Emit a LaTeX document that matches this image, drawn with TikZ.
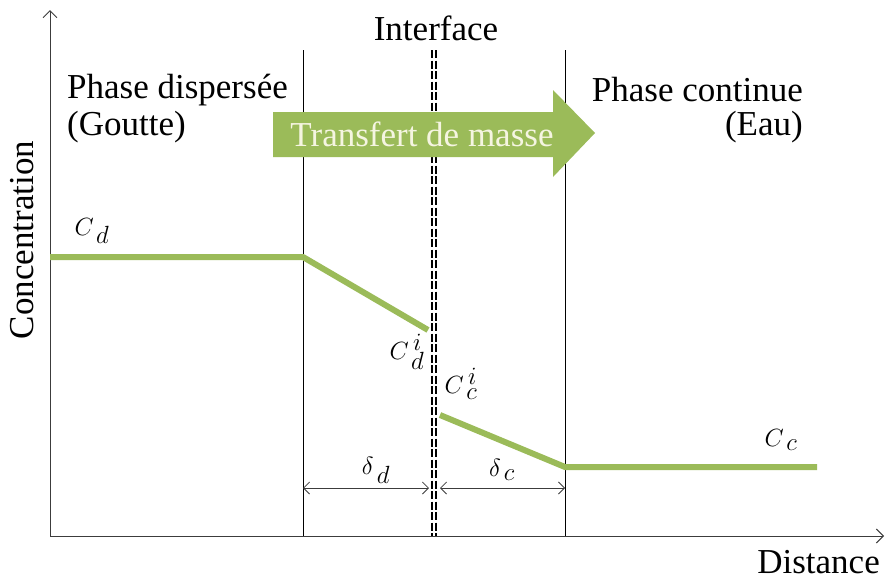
\documentclass[tikz,border=0pt]{standalone}
\usepackage{fontspec}
\setmainfont{Liberation Serif}
\usetikzlibrary{arrows.meta}
\definecolor{ogreen}{RGB}{155,187,89}
\definecolor{cream}{RGB}{245,245,225}
\definecolor{axisgray}{RGB}{60,60,60}
\begin{document}
\begin{tikzpicture}[x=1pt,y=-1pt,
  lbl/.style={font=\fontsize{35}{38}\selectfont, inner sep=0pt},
  mlbl/.style={font=\fontsize{33}{36}\selectfont, inner sep=0pt},
  axis/.style={axisgray, line width=1pt},
  vline/.style={black, line width=0.8pt},
  prof/.style={ogreen, line width=6pt},
  dim/.style={axisgray, line width=0.8pt, {Straight Barb[length=6pt,width=12pt]}-{Straight Barb[length=6pt,width=12pt]}}
]
\useasboundingbox (0,0) rectangle (885,581);
% coordinates
\coordinate (o) at (50,536);
\coordinate (ytop) at (50,10);
\coordinate (xend) at (884,536);
\coordinate (l1t) at (303,50); \coordinate (l1b) at (303,536);
\coordinate (l2t) at (565,50); \coordinate (l2b) at (565,536);
\coordinate (it1) at (432,50); \coordinate (ib1) at (432,536);
\coordinate (it2) at (436,50); \coordinate (ib2) at (436,536);
% axes
\draw[axis, -{Straight Barb[length=7pt,width=14pt]}] (o) -- (ytop);
\draw[axis, -{Straight Barb[length=7pt,width=14pt]}] (o) -- (xend);
% vertical lines
\draw[vline] (l1t) -- (l1b);
\draw[vline] (l2t) -- (l2b);
\draw[black, line width=1.2pt, dash pattern=on 8pt off 2.5pt] (it1) -- (ib1);
\draw[black, line width=1.2pt, dash pattern=on 8pt off 2.5pt] (it2) -- (ib2);
% green arrow (on top of the lines)
\fill[ogreen] (273,112) -- (553,112) -- (553,90) -- (595,133) -- (553,177) -- (553,157) -- (273,157) -- cycle;
\node[lbl, text=cream] (tm) at (422,134) {Transfert de masse};
% profile
\coordinate (p0) at (50,257); \coordinate (p1) at (303,257); \coordinate (p2) at (428,330);
\coordinate (q0) at (440,415); \coordinate (q1) at (565,467); \coordinate (q2) at (817,467);
\draw[prof, line join=round] (p0) -- (p1) -- (p2);
\draw[prof, line join=round] (q0) -- (q1) -- (q2);
% dimensions
\coordinate (d1) at (303,488); \coordinate (d2) at (429,488);
\coordinate (d3) at (440,488); \coordinate (d4) at (565,488);
\draw[dim] (d1) -- (d2);
\draw[dim] (d3) -- (d4);
% texts
\node[lbl] (iface) at (436,28) {Interface};
\node[lbl, anchor=west] (pd) at (67,90) {Phase dispersée};
\node[lbl, anchor=west] (gt) at (67,127) {(Goutte)};
\node[lbl, anchor=east] (pc) at (803,90) {Phase continue};
\node[lbl, anchor=east] (eau) at (803,127) {(Eau)};
\node[lbl, rotate=90] (conc) at (22,240) {Concentration};
\node[lbl, anchor=east] (dist) at (880,562) {Distance};
\node[mlbl] (cd) at (92,231) {$C_{\,d}$};
\node[mlbl] (cdi) at (407,352) {$C_{\,d}^{\,i}$};
\node[mlbl] (cci) at (461,384) {$C_{\,c}^{\,i}$};
\node[mlbl] (cc) at (781,440) {$C_{\,c}$};
\node[mlbl] (dd) at (376,470) {$\delta_{\,d}$};
\node[mlbl] (dc) at (502,470) {$\delta_{\,c}$};
\end{tikzpicture}
\end{document}
